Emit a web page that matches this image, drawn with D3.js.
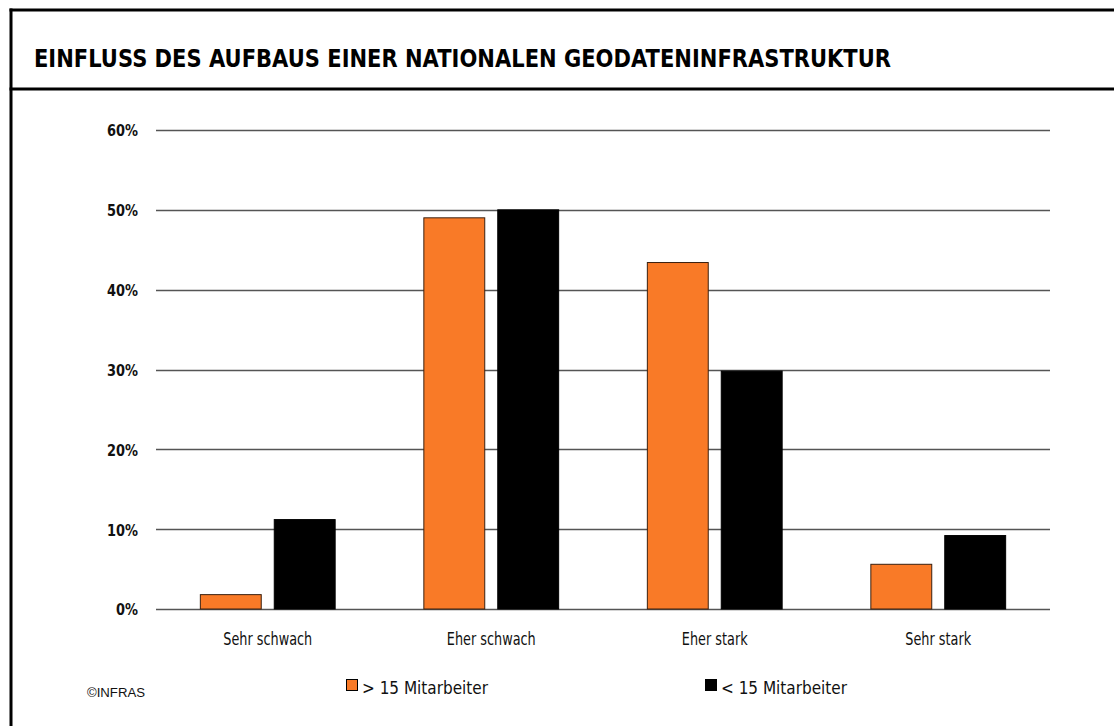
<!DOCTYPE html>
<html><head><meta charset="utf-8">
<script src="https://cdn.jsdelivr.net/npm/d3@7"></script>
<style>body{margin:0;background:#fff}svg{display:block}</style>
</head><body>
<svg id="c" width="1114" height="726"></svg>
<script>
const title = "EINFLUSS DES AUFBAUS EINER NATIONALEN GEODATENINFRASTRUKTUR";
const categories = ["Sehr schwach", "Eher schwach", "Eher stark", "Sehr stark"];
const seriesNames = ["> 15 Mitarbeiter", "< 15 Mitarbeiter"];
const seriesGt15 = [1.8, 49.0, 43.4, 5.6];
const seriesLt15 = [11.2, 50.0, 29.8, 9.2];
const yTicks = [0, 10, 20, 30, 40, 50, 60];
const source = "©INFRAS";

const colors = ["#F97A27", "#000000"];
const svg = d3.select("#c");
const font = "'DejaVu Sans',sans-serif";

// frame
svg.append("line").attr("x1",11).attr("x2",11).attr("y1",8.5).attr("y2",726).attr("stroke","#000").attr("stroke-width",3);
svg.append("line").attr("x1",9.5).attr("x2",1114).attr("y1",10).attr("y2",10).attr("stroke","#000").attr("stroke-width",3);
svg.append("line").attr("x1",9.5).attr("x2",1114).attr("y1",89).attr("y2",89).attr("stroke","#000").attr("stroke-width",3);

// horizontally condense a text selection so that the reference node gets width w
function condense(sel, refNode, w){
  const f = w / refNode.getComputedTextLength();
  sel.each(function(){
    const n = this.getComputedTextLength();
    d3.select(this).attr("textLength", n * f).attr("lengthAdjust", "spacingAndGlyphs");
  });
}

const t = svg.append("text").attr("x",34).attr("y",67)
  .attr("font-family",font).attr("font-weight","bold").attr("font-size",24.5).attr("fill","#000").text(title);
condense(t, t.node(), 857);

const m = {left:156, right:1050, top:130, bottom:609};
const x0 = d3.scaleBand().domain(categories).range([m.left, m.right]).paddingInner(0).paddingOuter(0);
const x1 = d3.scaleBand().domain(seriesNames).range([0, x0.bandwidth()]).paddingInner(0.176).paddingOuter(0.6);
const y = d3.scaleLinear().domain([0, 60]).range([m.bottom, m.top]);

// grid
svg.append("g").selectAll("line").data(yTicks).join("line")
  .attr("x1", m.left).attr("x2", m.right)
  .attr("y1", d=>Math.round(y(d))+0.5).attr("y2", d=>Math.round(y(d))+0.5)
  .attr("stroke", "#555").attr("stroke-width", 1.3);

// y labels
const yax = d3.axisLeft(y).tickValues(yTicks).tickFormat(d=>d+"%").tickSize(0).tickPadding(18);
const ya = svg.append("g").attr("transform",`translate(${m.left},0)`).call(yax);
ya.select(".domain").remove();
const yl = ya.selectAll("text").attr("font-family",font).attr("font-weight","bold")
  .attr("font-size",16.5).attr("fill","#111").attr("dy","0.36em");
condense(yl, yl.filter(d=>d===60).node(), 31);

// bars
const data = categories.map((c,i)=>({c, vals:[seriesGt15[i], seriesLt15[i]]}));
const groups = svg.append("g").selectAll("g").data(data).join("g")
  .attr("transform", d=>`translate(${x0(d.c)},0)`);
groups.selectAll("rect").data(d=>d.vals.map((v,j)=>({v, s:seriesNames[j], j}))).join("rect")
  .attr("x", d=>x1(d.s)).attr("width", x1.bandwidth())
  .attr("y", d=>y(d.v)).attr("height", d=>y(0)-y(d.v))
  .attr("fill", d=>colors[d.j])
  .attr("stroke", d=>d.j===0?"#3a2010":"#000").attr("stroke-width",1);

// x labels
const xax = d3.axisBottom(x0).tickSize(0).tickPadding(24);
const xa = svg.append("g").attr("transform",`translate(0,${m.bottom})`).call(xax);
xa.select(".domain").remove();
const xl = xa.selectAll("text").attr("font-family",font).attr("font-size",17.5).attr("fill","#111");
condense(xl, xl.filter(d=>d==="Sehr schwach").node(), 89);

// legend
const legX = [346, 705];
seriesNames.forEach((s,i)=>{
  svg.append("rect").attr("x",legX[i]+0.5).attr("y",679.5).attr("width",11).attr("height",11)
    .attr("fill",colors[i]).attr("stroke","#000").attr("stroke-width",1);
  const lt = svg.append("text").attr("x",legX[i]+16).attr("y",693.5)
    .attr("font-family",font).attr("font-size",17.5).attr("fill","#111").text(s);
  condense(lt, lt.node(), 126);
});

const st = svg.append("text").attr("x",87).attr("y",697).attr("font-family","'Liberation Sans',Arial,sans-serif")
  .attr("font-size",12).attr("fill","#111").text(source);
condense(st, st.node(), 58);
</script>
</body></html>
